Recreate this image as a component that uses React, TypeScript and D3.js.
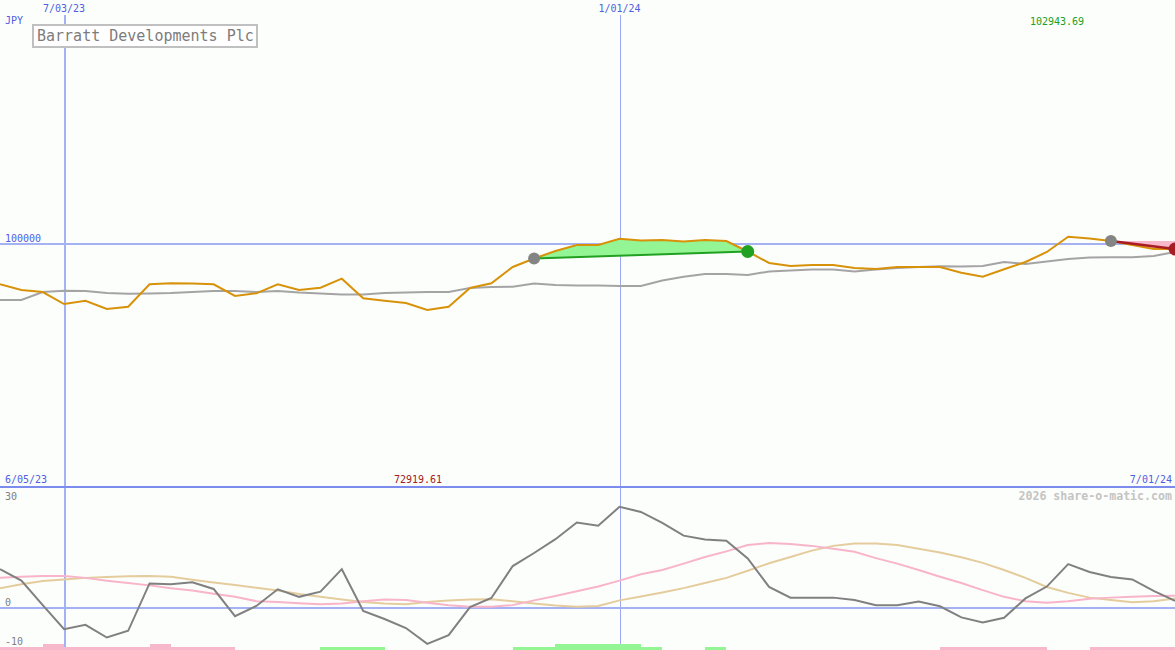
import * as d3 from 'd3';
import { useEffect, useRef } from 'react';

const W = 1175;
const H = 650;

// weekly closes, 12 Jun 2023 .. 1 Jul 2024
const startDate = new Date(2023, 5, 12);
const endDate = new Date(2024, 6, 1);

const price = [
  96649, 96180, 96016, 95031, 95302, 94620, 94809, 96649, 96731, 96714,
  96649, 95688, 95909, 96649, 96180, 96369, 97109, 95499, 95302, 95113,
  94538, 94809, 96345, 96731, 98070, 98768, 99384, 99877, 99877, 100394,
  100246, 100287, 100164, 100287, 100205, 99343, 98398, 98152, 98234, 98234,
  97988, 97905, 98070, 98070, 98070, 97601, 97273, 97881, 98480, 99302,
  100559, 100411, 100205, 99877, 99548, 99548,
];

const priceAvg = [
  95359, 95359, 96016, 96123, 96098, 95934, 95877, 95893, 95934, 96016,
  96098, 96098, 96016, 96098, 95975, 95893, 95811, 95811, 95934, 95975,
  96016, 96016, 96345, 96427, 96452, 96714, 96591, 96550, 96550, 96509,
  96509, 96961, 97273, 97495, 97495, 97413, 97700, 97782, 97864, 97864,
  97700, 97864, 97988, 98070, 98127, 98111, 98152, 98480, 98316, 98521,
  98727, 98850, 98867, 98867, 98973, 99302,
];

const momentum = [
  9.7, 6.8, 0.6, -5.5, -4.4, -7.6, -5.9, 6.1, 5.9, 6.4,
  4.7, -2.2, 0.4, 4.6, 2.7, 4.0, 9.7, -0.9, -2.9, -5.2,
  -9.2, -7.0, 0.1, 2.4, 10.5, 13.8, 17.3, 21.5, 20.7, 25.5,
  24.2, 21.4, 18.2, 17.2, 16.9, 12.4, 5.2, 2.5, 2.5, 2.5,
  1.9, 0.6, 0.6, 1.5, 0.3, -2.5, -3.8, -2.6, 2.3, 5.3,
  11.0, 9.0, 7.7, 7.1, 4.2, 1.7,
];

const signalFast = [
  7.5, 7.8, 8.0, 8.0, 7.5, 6.8, 6.2, 5.6, 4.9, 4.3,
  3.5, 2.7, 1.6, 1.4, 1.1, 0.8, 1.0, 1.6, 2.0, 1.9,
  1.2, 0.6, 0.2, 0.2, 0.6, 1.8, 2.9, 4.1, 5.3, 6.8,
  8.4, 9.5, 11.1, 12.8, 14.2, 15.8, 16.3, 16.1, 15.6, 14.9,
  14.1, 12.5, 11.1, 9.5, 7.8, 6.2, 4.4, 2.7, 1.6, 1.2,
  1.6, 2.2, 2.5, 2.7, 2.9, 3.0,
];

const signalSlow = [
  4.9, 5.9, 6.7, 7.1, 7.5, 7.7, 7.9, 8.0, 7.8, 7.0,
  6.3, 5.7, 5.0, 4.3, 3.4, 2.7, 2.0, 1.4, 1.0, 0.8,
  1.4, 1.8, 2.0, 2.1, 1.6, 1.0, 0.5, 0.2, 0.4, 1.8,
  2.8, 3.8, 4.9, 6.2, 7.5, 9.3, 11.2, 12.8, 14.4, 15.6,
  16.2, 16.2, 15.8, 14.9, 13.9, 12.7, 11.3, 9.5, 7.5, 5.2,
  3.7, 2.5, 1.9, 1.3, 1.6, 2.3,
];

// weekly histogram, one value per week interval (+ green, - pink)
const histogram = [
  -1, -1, -2, -1, -1, -1, -1, -2, -1, -1,
  -1, 0, 0, 0, 0, 1, 1, 1, 0, 0,
  0, 0, 0, 0, 1, 1, 2, 2, 2, 2,
  1, 0, 0, 1, 0, 0, 0, 0, 0, 0,
  0, 0, 0, 0, -1, -1, -1, -1, -1, 0,
  0, -1, -1, -1, -1,
];

const trades = [
  { entry: 25, exit: 35, win: true },
  { entry: 52, exit: 55, win: false },
];

const gridDates = [new Date(2023, 6, 3), new Date(2024, 0, 1)];
const gridDateLabels = ['7/03/23', '1/01/24'];
const priceGrid = [100000];
const momentumTicks = [30, 0, -10];

const title = 'Barratt Developments Plc';
const currency = 'JPY';
const highLabel = '102943.69';
const lowLabel = '72919.61';
const rangeStartLabel = '6/05/23';
const rangeEndLabel = '7/01/24';
const credit = '2026 share-o-matic.com';

const MONO = '"DejaVu Sans Mono", monospace';

const App = () => {
  const ref = useRef<SVGSVGElement>(null);

  useEffect(() => {
    document.body.style.margin = '0';
    const svg = d3.select(ref.current);
    svg.selectAll('*').remove();

    const weeks = d3.timeMonday.range(startDate, d3.timeDay.offset(endDate, 1));
    const x = d3.scaleTime().domain([startDate, endDate]).range([0, W]);
    const xi = (i: number) => x(weeks[i]);

    const y = d3.scaleLinear().domain([80000, 120000]).range([487, 0]);
    const ym = d3.scaleLinear().domain([-10, 30]).range([647, 489]);
    const hb = d3.scaleLinear().domain([0, 2]).range([0, 6]);

    svg.append('rect').attr('width', W).attr('height', H).attr('fill', '#fcfefc');

    const gridColor = '#a4b2f4';

    // vertical date lines
    gridDates.forEach((d, k) => {
      const gx = k === 0 ? Math.round(x(d)) + 1 : Math.round(x(d)) + 0.5;
      svg.append('line')
        .attr('x1', gx).attr('x2', gx)
        .attr('y1', 15).attr('y2', H)
        .attr('stroke', k === 0 ? gridColor : '#9aa8f6')
        .attr('stroke-width', k === 0 ? 2 : 1);
      svg.append('text')
        .attr('x', x(d)).attr('y', 12)
        .attr('text-anchor', 'middle')
        .attr('font-family', MONO).attr('font-size', 10)
        .attr('fill', '#5060e0')
        .text(gridDateLabels[k]);
    });

    // price grid
    priceGrid.forEach(v => {
      svg.append('line')
        .attr('x1', 0).attr('x2', W)
        .attr('y1', y(v)).attr('y2', y(v))
        .attr('stroke', gridColor).attr('stroke-width', 2)
        .attr('shape-rendering', 'crispEdges');
      svg.append('text')
        .attr('x', 5).attr('y', y(v) - 2)
        .attr('font-family', MONO).attr('font-size', 10)
        .attr('fill', '#5060e0')
        .text(String(v));
    });

    // momentum zero line
    svg.append('line')
      .attr('x1', 0).attr('x2', W)
      .attr('y1', ym(0)).attr('y2', ym(0))
      .attr('stroke', gridColor).attr('stroke-width', 2)
      .attr('shape-rendering', 'crispEdges');

    // panel separator
    svg.append('line')
      .attr('x1', 0).attr('x2', W)
      .attr('y1', 486.5).attr('y2', 486.5)
      .attr('stroke', '#7b8cee').attr('stroke-width', 2)
      .attr('shape-rendering', 'crispEdges');

    // trade fills
    trades.forEach(t => {
      const idx = d3.range(t.entry, t.exit + 1);
      const p0 = price[t.entry];
      const p1 = price[t.exit];
      const base = (i: number) =>
        t.win ? p0 + ((p1 - p0) * (i - t.entry)) / (t.exit - t.entry) : p0;
      const area = d3.area<number>()
        .x(i => xi(i))
        .y0(i => y(base(i)))
        .y1(i => y(price[i]));
      svg.append('path')
        .attr('d', area(idx))
        .attr('fill', t.win ? '#94f594' : '#f8b8cc');
    });

    const line = d3.line<number>().x((_, i) => xi(i));

    svg.append('path')
      .attr('d', line.y(v => y(v))(priceAvg))
      .attr('fill', 'none').attr('stroke', '#a4a4a4').attr('stroke-width', 2);

    svg.append('path')
      .attr('d', line.y(v => y(v))(price))
      .attr('fill', 'none').attr('stroke', '#d8920a').attr('stroke-width', 2);

    // trade lines and markers
    trades.forEach(t => {
      const c = t.win ? '#22a022' : '#a81c24';
      svg.append('line')
        .attr('x1', xi(t.entry)).attr('y1', y(price[t.entry]))
        .attr('x2', xi(t.exit)).attr('y2', y(price[t.exit]))
        .attr('stroke', c).attr('stroke-width', t.win ? 2 : 2.5);
      svg.append('circle')
        .attr('cx', xi(t.entry)).attr('cy', y(price[t.entry]))
        .attr('r', 6).attr('fill', '#848484');
      svg.append('circle')
        .attr('cx', xi(t.exit)).attr('cy', y(price[t.exit]))
        .attr('r', 6.5).attr('fill', c);
    });

    // lower panel
    svg.append('path')
      .attr('d', line.y(v => ym(v))(signalSlow))
      .attr('fill', 'none').attr('stroke', '#e4cc9c').attr('stroke-width', 2);
    svg.append('path')
      .attr('d', line.y(v => ym(v))(signalFast))
      .attr('fill', 'none').attr('stroke', '#f8b4c8').attr('stroke-width', 2);
    svg.append('path')
      .attr('d', line.y(v => ym(v))(momentum))
      .attr('fill', 'none').attr('stroke', '#808080').attr('stroke-width', 2);

    svg.append('g')
      .selectAll('rect')
      .data(histogram)
      .enter()
      .append('rect')
      .attr('x', (_, i) => xi(i))
      .attr('width', (_, i) => xi(i + 1) - xi(i))
      .attr('y', v => H - hb(Math.abs(v)))
      .attr('height', v => hb(Math.abs(v)))
      .attr('fill', v => (v > 0 ? '#94f594' : '#f8b8cc'))
      .attr('shape-rendering', 'crispEdges');

    momentumTicks.forEach(v => {
      const yy = v === 30 ? ym(v) + 11 : ym(v) - 2;
      svg.append('text')
        .attr('x', 5).attr('y', yy)
        .attr('font-family', MONO).attr('font-size', 10)
        .attr('fill', '#808080')
        .text(String(v));
    });

    // labels
    svg.append('text')
      .attr('x', 5).attr('y', 24)
      .attr('font-family', MONO).attr('font-size', 10)
      .attr('fill', '#5060e0').text(currency);

    svg.append('text')
      .attr('x', 1057).attr('y', 25).attr('text-anchor', 'middle')
      .attr('font-family', MONO).attr('font-size', 10)
      .attr('fill', '#20a020').text(highLabel);

    svg.append('text')
      .attr('x', 418).attr('y', 483).attr('text-anchor', 'middle')
      .attr('font-family', MONO).attr('font-size', 10)
      .attr('fill', '#a02020').text(lowLabel);

    svg.append('text')
      .attr('x', 5).attr('y', 483)
      .attr('font-family', MONO).attr('font-size', 10)
      .attr('fill', '#5060e0').text(rangeStartLabel);

    svg.append('text')
      .attr('x', 1172).attr('y', 483).attr('text-anchor', 'end')
      .attr('font-family', MONO).attr('font-size', 10)
      .attr('fill', '#5060e0').text(rangeEndLabel);

    svg.append('text')
      .attr('x', 1172).attr('y', 500).attr('text-anchor', 'end')
      .attr('font-family', MONO).attr('font-size', 11.6).attr('font-weight', 'bold')
      .attr('fill', '#c4c4c4').text(credit);

    // title box
    svg.append('rect')
      .attr('x', 33).attr('y', 25).attr('width', 224).attr('height', 22)
      .attr('fill', '#ffffff').attr('stroke', '#c0c0c0').attr('stroke-width', 2);
    svg.append('text')
      .attr('x', 37).attr('y', 41)
      .attr('font-family', MONO).attr('font-size', 15)
      .attr('fill', '#7c7c7c').text(title);
  }, []);

  return (
    <svg
      ref={ref}
      width={W}
      height={H}
      style={{ display: 'block', position: 'absolute', left: 0, top: 0 }}
    />
  );
};

export default App;
